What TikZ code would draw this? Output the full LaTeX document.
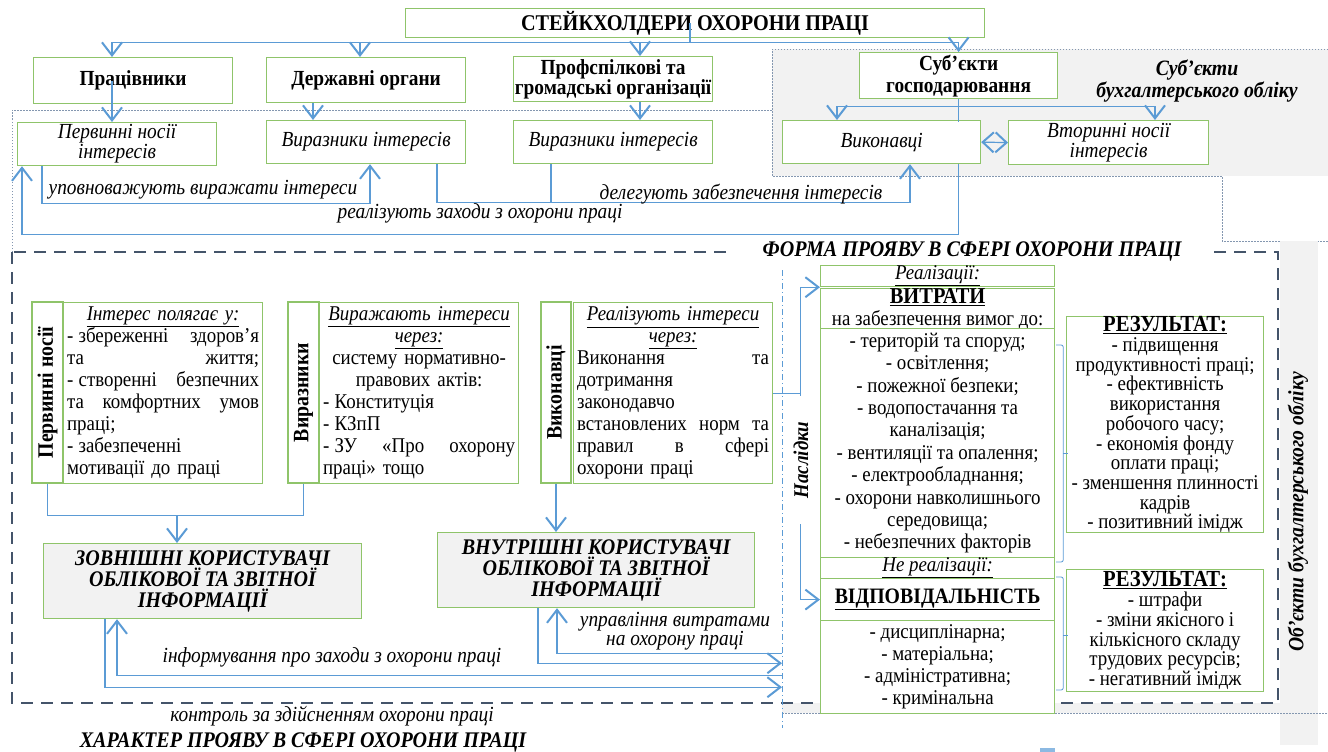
\documentclass[tikz,border=0pt]{standalone}
\usepackage{fontspec}
\setmainfont{Liberation Serif}[FakeStretch=0.9]
\usetikzlibrary{arrows.meta,calc}
\definecolor{gr}{HTML}{8FC46A}
\definecolor{bl}{HTML}{5B9BD5}
\definecolor{gf}{HTML}{F2F2F2}
\definecolor{dk}{HTML}{44546A}
\definecolor{dt}{HTML}{8497B0}
\newcommand{\fz}[2]{\fontsize{#1pt}{#2pt}\selectfont}
\newcommand{\jl}[1]{\makebox[\linewidth][s]{\spaceskip=0.25em plus 1fil\relax #1}}
\newcommand{\lft}[1]{\makebox[\linewidth][l]{#1}}
\newcommand{\ds}{-\hspace{0.25em}}
\begin{document}
\begin{tikzpicture}[x=1pt,y=-1pt,
  box/.style={draw=gr,line width=1.2pt,fill=white,inner sep=0pt,anchor=north west,font=\fz{21}{22},align=center},
  rbox/.style={draw=gr,line width=1.2pt,fill=white,inner sep=0pt,rotate=90,font=\bfseries\fz{22}{22}},
  ln/.style={draw=bl,line width=1.2pt},
  arr/.style={-{Straight Barb[length=13pt,width=20pt,line width=2pt]}},
  darr/.style={{Straight Barb[length=11pt,width=20pt,line width=2pt]}-{Straight Barb[length=11pt,width=20pt,line width=2pt]}},
  brc/.style={draw=bl,line width=0.8pt,rounded corners=2pt},
  dots/.style={draw=dt,line width=0.8pt,dash pattern=on 1.5pt off 1.5pt},
  lab/.style={font=\itshape\fz{21.5}{20},inner sep=0pt}]
\useasboundingbox (0,0) rectangle (1328,752);
% backgrounds
\fill[gf] (772,49) rectangle (1328,176);
\draw[dots] (1328,49) -- (772,49) -- (772,176) -- (1222,176) -- (1222,241) -- (1328,241);
\draw[dots] (12,252) -- (12,110) -- (772,110);
\fill[gf] (1280,241) rectangle (1318,745);
\fill[gf] (782,703) rectangle (1280,713);
\draw[dots] (782,713) -- (1328,713);
\draw[dk,line width=2.5pt,dash pattern=on 12pt off 8pt] (12,252) rectangle (1278,703);
\coordinate (dd1) at (782,270);
\coordinate (dd2) at (782,728);
\draw[bl,line width=0.8pt,dash pattern=on 6pt off 3pt on 1pt off 3pt] (dd1) -- (dd2);
\fill[bl!70] (1040,748) rectangle (1055,752);
% top
\node[box,minimum width=579,minimum height=29,font=\bfseries\fz{22.5}{22}] (title) at (405,8) {СТЕЙКХОЛДЕРИ ОХОРОНИ ПРАЦІ};
\node[box,minimum width=199,minimum height=46,font=\bfseries\fz{21.5}{22}] (prac) at (33,57) {Працівники};
\node[box,minimum width=199,minimum height=45,font=\bfseries\fz{21.5}{22}] (derzh) at (266,57) {Державні органи};
\node[box,minimum width=199,minimum height=45,font=\bfseries\fz{21.5}{20}] (prof) at (513,56) {Профспілкові та\\громадські організації};
\node[box,minimum width=198,minimum height=46,font=\bfseries\fz{21.5}{22}] (subj) at (859,52) {Суб’єкти\\господарювання};
\node[font=\bfseries\itshape\fz{21.9}{22},align=center] (sbo) at (1197,81) {Суб’єкти\\бухгалтерського обліку};
\node[box,minimum width=199,minimum height=43,font=\itshape\fz{21.5}{20}] (pn1) at (17,122) {Первинні носії\\інтересів};
\node[box,minimum width=199,minimum height=43,font=\itshape\fz{21.5}{20}] (vr1) at (266,120) {Виразники інтересів};
\node[box,minimum width=199,minimum height=43,font=\itshape\fz{21.5}{20}] (vr2) at (513,120) {Виразники інтересів};
\node[box,minimum width=198,minimum height=43,font=\itshape\fz{21.5}{20}] (vyk) at (782,120) {Виконавці};
\node[box,minimum width=200,minimum height=44,font=\itshape\fz{21.5}{20}] (vtor) at (1008,120) {Вторинні носії\\інтересів};
% lower left group
\node[rbox,minimum width=181,minimum height=31] (pnv) at (47.5,392.5) {Первинні носії};
\node[box,minimum width=199,minimum height=181,text width=192] (pnt) at (63,302) {\underline{\textit{Інтерес полягає у:}}\\
\jl{\ds збереженні здоров’я}\\ \jl{та життя;}\\ \jl{\ds створенні безпечних}\\ \jl{та комфортних умов}\\ \lft{праці;}\\ \lft{\ds забезпеченні}\\ \lft{мотивації до праці}};
\node[rbox,minimum width=181,minimum height=31] (vrv) at (303.5,392.5) {Виразники};
\node[box,minimum width=199,minimum height=181,text width=192] (vrt) at (319,302) {\underline{\textit{Виражають інтереси}}\\ \underline{\textit{через:}}\\
систему нормативно-\\ правових актів:\\ \lft{\ds Конституція}\\ \lft{\ds КЗпП}\\ \jl{\ds ЗУ «Про охорону}\\ \lft{праці» тощо}};
\node[rbox,minimum width=181,minimum height=30] (vykv) at (556,392.5) {Виконавці};
\node[box,minimum width=199,minimum height=181,text width=192] (vykt) at (573,302) {\underline{\textit{Реалізують інтереси}}\\ \underline{\textit{через:}}\\
\jl{Виконання та}\\ \lft{дотримання}\\ \lft{законодавчо}\\ \jl{встановлених норм та}\\ \jl{правил в сфері}\\ \lft{охорони праці}};
\node[box,fill=gf,minimum width=318,minimum height=75,font=\bfseries\itshape\fz{22.3}{21}] (zovn) at (43,543) {ЗОВНІШНІ КОРИСТУВАЧІ\\ОБЛІКОВОЇ ТА ЗВІТНОЇ\\ІНФОРМАЦІЇ};
\node[box,fill=gf,minimum width=317,minimum height=75,font=\bfseries\itshape\fz{22.3}{21}] (vnutr) at (437,532) {ВНУТРІШНІ КОРИСТУВАЧІ\\ОБЛІКОВОЇ ТА ЗВІТНОЇ\\ІНФОРМАЦІЇ};
% right group
\node[box,minimum width=234,minimum height=21,font=\itshape\fz{21}{20}] (real) at (820,265) {\underline{Реалізації:}};
\node[box,minimum width=234,minimum height=40,font=\fz{21}{22}] (vytr) at (820,288) {{\fz{22.7}{22}\underline{\textbf{ВИТРАТИ}}}\\на забезпечення вимог до:};
\node[box,minimum width=234,minimum height=229,font=\fz{21}{22.4}] (vytrl) at (820,328) {- територій та споруд;\\- освітлення;\\- пожежної безпеки;\\- водопостачання та\\каналізація;\\- вентиляції та опалення;\\- електрообладнання;\\- охорони навколишнього\\середовища;\\- небезпечних факторів};
\node[box,minimum width=234,minimum height=21,font=\itshape\fz{21}{20}] (nereal) at (820,557) {\underline{Не реалізації:}};
\node[box,minimum width=234,minimum height=42,font=\bfseries\fz{22}{22}] (vidp) at (820,578) {\underline{ВІДПОВІДАЛЬНІСТЬ}};
\node[box,minimum width=234,minimum height=93,font=\fz{21}{22}] (vidpl) at (820,620) {- дисциплінарна;\\- матеріальна;\\- адміністративна;\\- кримінальна};
\node[box,minimum width=197,minimum height=216,font=\fz{21}{19.7}] (res1) at (1066,316) {{\fz{23}{23}\underline{\textbf{РЕЗУЛЬТАТ:}}}\\- підвищення\\продуктивності праці;\\- ефективність\\використання\\робочого часу;\\- економія фонду\\оплати праці;\\- зменшення плинності\\кадрів\\- позитивний імідж};
\node[box,minimum width=197,minimum height=122,font=\fz{21}{19.7}] (res2) at (1066,569) {{\fz{23}{23}\underline{\textbf{РЕЗУЛЬТАТ:}}}\\- штрафи\\- зміни якісного і\\кількісного складу\\трудових ресурсів;\\- негативний імідж};
\node[rotate=90,font=\bfseries\itshape\fz{21.8}{20}] (obj) at (1298,512) {Об’єкти бухгалтерського обліку};
% connectors top
\coordinate (hub) at ($(title.south west)+(285,4)$);
\coordinate (ap) at ($(prac.north west)+(79,0)$);
\coordinate (ad) at ($(derzh.north west)+(94,0)$);
\coordinate (af) at ($(prof.north west)+(127,0)$);
\draw[ln] (title.center -| hub) -- (hub);
\draw[ln] (hub -| ap) -- (hub -| subj.north);
\draw[ln,arr] (hub -| ap) -- (ap);
\draw[ln,arr] (hub -| ad) -- (ad);
\draw[ln,arr] (hub -| af) -- (af);
\draw[ln,arr] (hub -| subj.north) -- (subj.north);
\coordinate (bp) at ($(pn1.north west)+(95,0)$);
\draw[ln,arr] (prac.center -| bp) -- (bp);
\coordinate (bd) at ($(vr1.north west)+(47,0)$);
\draw[ln,arr] (derzh.south -| bd) -- (bd);
\coordinate (bf) at ($(vr2.north west)+(127,0)$);
\draw[ln,arr] (prof.south -| bf) -- (bf);
\coordinate (sj) at ($(subj.south)+(0,7)$);
\coordinate (bv) at ($(vyk.north west)+(55,0)$);
\coordinate (bt) at ($(vtor.north west)+(147,0)$);
\draw[ln] (subj.south) -- ($(subj.south |- vyk.north)+(0,2)$);
\draw[ln] (sj -| bv) -- (sj -| bt);
\draw[ln,arr] (sj -| bv) -- (bv);
\draw[ln,arr] (sj -| bt) -- (bt);
\draw[ln,darr] (vyk.east) -- (vtor.west);
\coordinate (r0) at (vyk.south -| subj.south);
\coordinate (r1) at ($(r0)+(0,70)$);
\coordinate (rp) at ($(pn1.south west)+(5,0)$);
\draw[ln,arr] (r0) -- (r1) -| (rp);
\coordinate (u1) at ($(pn1.south west)+(25,0)$);
\coordinate (u2) at ($(vr1.south west)+(104,0)$);
\draw[ln,arr] (u1) -- ++(0,37) -| (u2);
\coordinate (d1) at ($(vr1.south west)+(171,0)$);
\coordinate (d2) at ($(vr2.south west)+(38,0)$);
\coordinate (d3) at ($(vyk.south west)+(128,0)$);
\draw[ln,arr] (d1) -- ++(0,38) -| (d3);
\draw[ln] (d2) -- ++(0,38);
% lower connectors
\coordinate (m1) at ($(pnv.west)+(0,32)$);
\draw[ln] (pnv.west) -- (m1) -| (vrv.west);
\coordinate (z1) at ($(zovn.north west)+(134,0)$);
\draw[ln,arr] (z1 |- m1) -- (z1);
\draw[ln,arr] (vykv.west) -- (vykv.west |- vnutr.north);
\coordinate (n1) at ($(vykt.east)+(27,0)$);
\draw[ln,arr] (vykt.east) -- (n1) |- (real.south west);
\draw[ln,arr] (n1) |- (vidp.west);
\coordinate (i1) at ($(zovn.south west)+(74,0)$);
\coordinate (i2) at ($(i1)+(0,56)$);
\draw[ln,arr] (i2 -| dd2) -- (i2) -- (i1);
\coordinate (c1) at ($(zovn.south west)+(62,0)$);
\coordinate (c2) at ($(c1)+(0,68)$);
\draw[ln,arr] (c1) -- (c2) -- (c2 -| dd2);
\coordinate (v1) at ($(vnutr.south west)+(120,0)$);
\coordinate (v2) at ($(v1)+(0,45)$);
\draw[ln,arr] (v2 -| dd2) -- (v2) -- (v1);
\coordinate (w1) at ($(vnutr.south west)+(101,0)$);
\coordinate (w2) at ($(w1)+(0,55)$);
\draw[ln,arr] (w1) -- (w2) -- (w2 -| dd2);
\coordinate (b1) at ($(vytrl.north east)+(1,17)$);
\draw[brc] (b1) -- ++(7,0) -- ++(0,217) -- ++(-7,0);
\draw[brc] ($(b1)+(7,108)$) -- ++(5,0);
\coordinate (b2) at ($(vidp.north east)+(1,-1)$);
\draw[brc] (b2) -- ++(7,0) -- ++(0,113) -- ++(-7,0);
\draw[brc] ($(b2)+(7,58)$) -- ++(5,0);
% labels
\node[rotate=90,fill=white,font=\bfseries\itshape\fz{21}{20},minimum width=128,inner sep=1pt] (nasl) at (801,460) {Наслідки};
\node[fill=white,font=\bfseries\itshape\fz{22.3}{22},inner xsep=30pt,inner ysep=0pt] (forma) at (972,251) {ФОРМА ПРОЯВУ В СФЕРІ ОХОРОНИ ПРАЦІ};
\node[font=\bfseries\itshape\fz{22.3}{22}] (har) at (303,742) {ХАРАКТЕР ПРОЯВУ В СФЕРІ ОХОРОНИ ПРАЦІ};
\node[lab] (l1) at (203,190) {уповноважують виражати інтереси};
\node[lab] (l2) at (741,194) {делегують забезпечення інтересів};
\node[lab] (l3) at (480,213) {реалізують заходи з охорони праці};
\node[lab] (l4) at (332,657) {інформування про заходи з охорони праці};
\node[lab] (l5) at (332,716) {контроль за здійсненням охорони праці};
\node[lab,align=center,font=\itshape\fz{21.5}{19}] (l6) at (675,631) {управління витратами\\на охорону праці};
\end{tikzpicture}
\end{document}
